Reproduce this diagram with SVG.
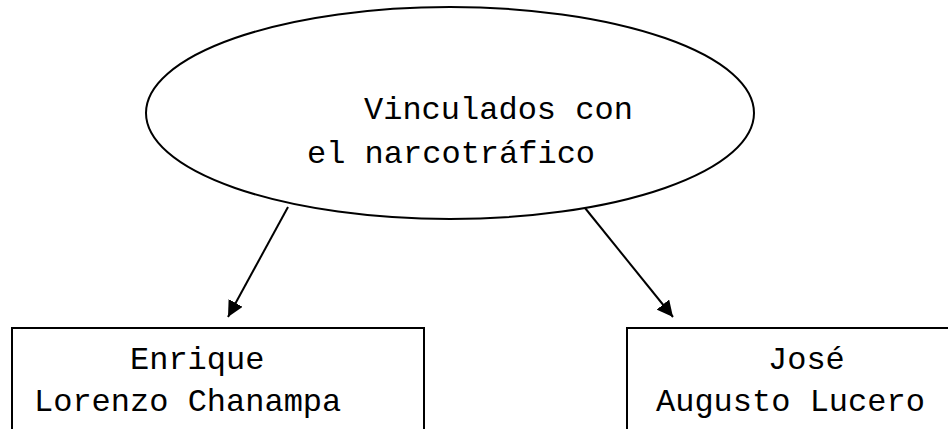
<svg xmlns="http://www.w3.org/2000/svg" width="948" height="429" viewBox="0 0 948 429">
<style>
.shape{fill:#fff;stroke:#000;stroke-width:2}
.t{font-family:"Liberation Mono",monospace;font-size:32px;fill:#000}
.conn{stroke:#000;stroke-width:2;fill:none}
</style>
<defs>
<marker id="ah" markerUnits="userSpaceOnUse" markerWidth="18" markerHeight="16" refX="16" refY="8" orient="auto">
<path d="M0,0 L16,8 L0,16 Z" fill="#000"/>
</marker>
</defs>
<rect width="948" height="429" fill="#fff"/>
<g id="node-top">
<ellipse class="shape" cx="450" cy="113" rx="304" ry="106"/>
<text class="t" x="364" y="119">Vinculados con</text>
<text class="t" x="307" y="163">el narcotráfico</text>
</g>
<g id="node-left">
<rect class="shape" x="12" y="328" width="412" height="120"/>
<text class="t" x="130" y="369">Enrique</text>
<text class="t" x="34" y="411">Lorenzo Chanampa</text>
</g>
<g id="node-right">
<rect class="shape" x="627" y="328" width="340" height="120"/>
<text class="t" x="768" y="369">José</text>
<text class="t" x="656" y="411">Augusto Lucero</text>
</g>
<g id="connectors">
<line class="conn" x1="288" y1="207" x2="228" y2="317" marker-end="url(#ah)"/>
<line class="conn" x1="585" y1="208" x2="673" y2="317" marker-end="url(#ah)"/>
</g>
</svg>
